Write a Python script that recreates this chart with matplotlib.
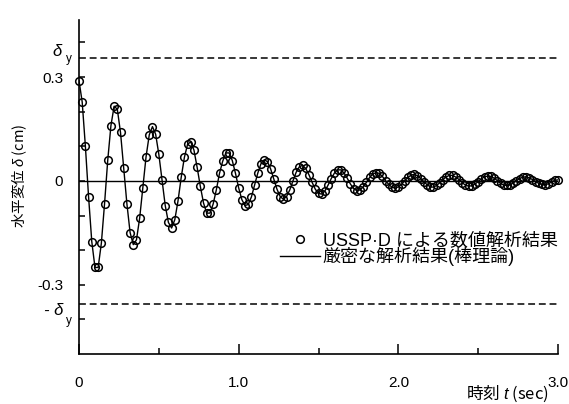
import numpy as np
import matplotlib
matplotlib.use("Agg")
import matplotlib.pyplot as plt

plt.rcParams['font.family'] = ['Liberation Sans', 'Noto Sans CJK JP']
plt.rcParams['mathtext.fontset'] = 'custom'
plt.rcParams['mathtext.it'] = 'Liberation Sans:italic'
plt.rcParams['mathtext.rm'] = 'Liberation Sans'

# 時刻の刻み (sec) と水平変位 (cm)、図から読み取り
dt = 0.02
disp = [
    0.290, 0.228, 0.100, -0.046, -0.175, -0.250, -0.250, -0.180, -0.066, 0.060,
    0.160, 0.216, 0.207, 0.140, 0.038, -0.066, -0.149, -0.184, -0.170, -0.107,
    -0.019, 0.070, 0.133, 0.157, 0.135, 0.077, 0.003, -0.071, -0.120, -0.136,
    -0.112, -0.058, 0.010, 0.068, 0.106, 0.113, 0.089, 0.039, -0.016, -0.064,
    -0.093, -0.093, -0.067, -0.026, 0.022, 0.057, 0.081, 0.081, 0.059, 0.022,
    -0.020, -0.054, -0.071, -0.068, -0.046, -0.012, 0.023, 0.050, 0.061, 0.056,
    0.035, 0.005, -0.024, -0.045, -0.053, -0.045, -0.026, 0.000, 0.025, 0.041,
    0.045, 0.036, 0.018, -0.004, -0.024, -0.036, -0.038, -0.029, -0.012, 0.007,
    0.023, 0.032, 0.032, 0.023, 0.008, -0.009, -0.022, -0.028, -0.026, -0.017,
    -0.004, 0.010, 0.020, 0.024, 0.022, 0.013, 0.001, -0.010, -0.018, -0.021,
    -0.017, -0.010, 0.001, 0.010, 0.017, 0.019, 0.015, 0.007, -0.002, -0.011,
    -0.017, -0.018, -0.013, -0.005, 0.004, 0.012, 0.016, 0.016, 0.011, 0.004,
    -0.005, -0.012, -0.015, -0.014, -0.009, -0.002, 0.006, 0.012, 0.014, 0.013,
    0.008, 0.001, -0.007, -0.012, -0.013, -0.011, -0.006, 0.001, 0.007, 0.011,
    0.012, 0.009, 0.004, -0.002, -0.007, -0.010, -0.011, -0.008, -0.003, 0.002,
    0.003,
]
time = np.round(np.arange(len(disp)) * dt, 3)
delta_y = 0.355

label_num = 'USSP·D による数値解析結果'
label_exact = '厳密な解析結果(棒理論)'

fig = plt.figure(figsize=(5.69, 4.04), dpi=100)
ax = fig.add_axes([79 / 569, 1 - 354 / 404, 479 / 569, 334 / 404])

ax.axhline(0, color='black', lw=1.0, zorder=1)
for v in (delta_y, -delta_y):
    ax.axhline(v, color='black', lw=1.1, linestyle=(0, (4.5, 2.5)), zorder=1)

ax.plot(time, disp, color='black', lw=1.0, label=label_exact, zorder=2)
ax.plot(time, disp, linestyle='none', marker='o', ms=5.5, mfc='none',
        mec='black', mew=1.1, label=label_num, clip_on=False, zorder=3)

ax.set_xlim(0, 3.0)
ax.set_ylim(-0.5, 0.465)

for s in ('top', 'right'):
    ax.spines[s].set_visible(False)
for s in ('left', 'bottom'):
    ax.spines[s].set_linewidth(1.2)

ax.set_xticks([0, 1, 2, 3])
ax.set_xticklabels(['0', '1.0', '2.0', '3.0'])
ax.set_xticks([0.5, 1.5, 2.5], minor=True)
ax.set_yticks([-0.3, 0, 0.3])
ax.set_yticklabels(['-0.3', '0', '0.3'])
ax.set_yticks([-0.4, -0.2, -0.1, 0.1, 0.2, 0.4], minor=True)
ax.tick_params(axis='x', which='major', direction='in', length=7, width=1.1,
               pad=16, labelsize=11)
ax.tick_params(axis='x', which='minor', direction='in', length=4, width=1.1)
ax.tick_params(axis='y', which='both', direction='in', length=4.5, width=1.1,
               pad=11.5, labelsize=11)

# δy の目盛ラベル
ytr = ax.get_yaxis_transform()
ax.annotate('δ', xy=(0, delta_y), xycoords=ytr, xytext=(-16, 5),
            textcoords='offset points', ha='center', va='center',
            fontsize=12, style='italic')
ax.annotate('y', xy=(0, delta_y), xycoords=ytr, xytext=(-7.5, -0.5),
            textcoords='offset points', ha='center', va='center', fontsize=8.5)
ax.annotate('- δ', xy=(0, -delta_y), xycoords=ytr, xytext=(-18, -5),
            textcoords='offset points', ha='center', va='center',
            fontsize=12, style='italic')
ax.annotate('y', xy=(0, -delta_y), xycoords=ytr, xytext=(-7.5, -12.5),
            textcoords='offset points', ha='center', va='center', fontsize=8.5)

ax.set_ylabel('水平変位 $\\delta$ (cm)', family='Noto Sans CJK JP',
              fontsize=10.5)
ax.yaxis.set_label_coords(-0.104, 0.535)
ax.set_xlabel('時刻 $t$ (sec)', family='Noto Sans CJK JP', fontsize=12)
ax.xaxis.set_label_coords(0.895, -0.088)

h, l = ax.get_legend_handles_labels()
ax.legend(h[::-1], l[::-1], loc='upper left', bbox_to_anchor=(0.42, 0.365),
          frameon=False, fontsize=13, borderpad=0, borderaxespad=0,
          handlelength=2.2, handletextpad=0.15, labelspacing=-0.1)

fig.savefig('out.png', dpi=100)
